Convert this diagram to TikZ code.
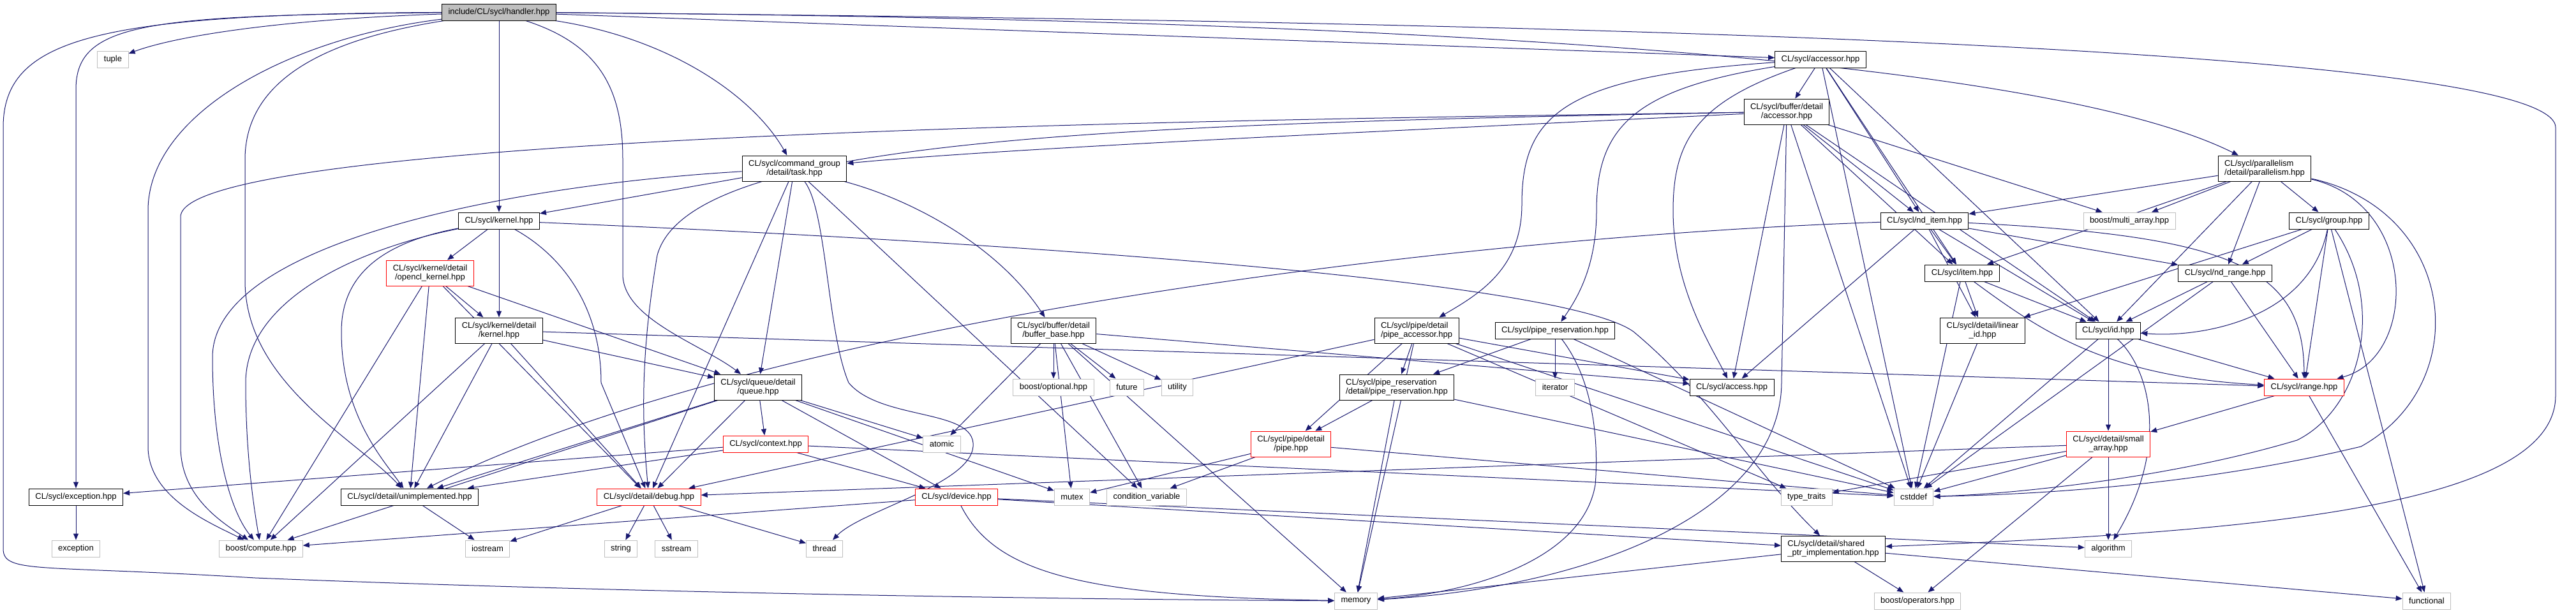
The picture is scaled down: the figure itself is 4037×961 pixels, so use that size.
\documentclass[tikz,border=0pt]{standalone}
\usepackage{fontspec}
\setmainfont{Liberation Sans}
\usetikzlibrary{arrows.meta}
\definecolor{edgeblue}{HTML}{191970}
\definecolor{greyline}{HTML}{BFBFBF}
\pgfdeclarelayer{background}
\pgfsetlayers{background,main}

\begin{document}
\begin{tikzpicture}[>={Triangle[length=10pt,width=8pt]},x=1pt,y=-1pt,
  incfile/.style={draw=black,fill=white,line width=1pt,inner xsep=10pt,inner ysep=2pt,
    minimum height=26pt,align=center,font=\fontsize{13}{14}\selectfont},
  sysfile/.style={incfile,draw=greyline},
  truncfile/.style={incfile,draw=red},
  mainfile/.style={incfile,fill=greyline},
  twoline/.style={minimum height=40pt},
  dep/.style={->,draw=edgeblue,line width=1pt}]
  \useasboundingbox (0,0) rectangle (4037,961);

  % Headers of the project
  \node[mainfile] (handler) at (782,19) {include/CL/sycl/handler.hpp};
  \node[incfile] (accessor) at (2853,93) {CL/sycl/accessor.hpp};
  \node[incfile,twoline] (bufacc) at (2800,175) {CL/sycl/buffer/detail\\/accessor.hpp};
  \node[incfile,twoline] (task) at (1245,264) {CL/sycl/command\_group\\/detail/task.hpp};
  \node[incfile,twoline,align=left] (parallelism) at (3549,264) {CL/sycl/parallelism\\/detail/parallelism.hpp};
  \node[incfile] (kernel) at (782,346) {CL/sycl/kernel.hpp};
  \node[incfile] (nditem) at (3016,346) {CL/sycl/nd\_item.hpp};
  \node[incfile] (group) at (3650,346) {CL/sycl/group.hpp};
  \node[truncfile,twoline] (openclkernel) at (674,428) {CL/sycl/kernel/detail\\/opencl\_kernel.hpp};
  \node[incfile] (item) at (3075,428) {CL/sycl/item.hpp};
  \node[incfile] (ndrange) at (3487,428) {CL/sycl/nd\_range.hpp};
  \node[incfile,twoline] (kerneldetail) at (782,518) {CL/sycl/kernel/detail\\/kernel.hpp};
  \node[incfile,twoline] (bufferbase) at (1651,518) {CL/sycl/buffer/detail\\/buffer\_base.hpp};
  \node[incfile,twoline,align=left] (pipeacc) at (2220,518) {CL/sycl/pipe/detail\\/pipe\_accessor.hpp};
  \node[incfile] (pipereserv) at (2437,518) {CL/sycl/pipe\_reservation.hpp};
  \node[incfile,twoline] (linearid) at (3107,518) {CL/sycl/detail/linear\\\_id.hpp};
  \node[incfile] (id) at (3304,518) {CL/sycl/id.hpp};
  \node[incfile,twoline] (queue) at (1188,607) {CL/sycl/queue/detail\\/queue.hpp};
  \node[incfile,twoline,align=left] (pipereservdetail) at (2189,607) {CL/sycl/pipe\_reservation\\/detail/pipe\_reservation.hpp};
  \node[incfile] (access) at (2714,607) {CL/sycl/access.hpp};
  \node[truncfile] (range) at (3611,607) {CL/sycl/range.hpp};
  \node[truncfile] (context) at (1200,696) {CL/sycl/context.hpp};
  \node[truncfile,twoline] (pipe) at (2023,696) {CL/sycl/pipe/detail\\/pipe.hpp};
  \node[truncfile,twoline] (smallarray) at (3304,696) {CL/sycl/detail/small\\\_array.hpp};
  \node[incfile] (exceptionhpp) at (119,779) {CL/sycl/exception.hpp};
  \node[incfile] (unimplemented) at (642,779) {CL/sycl/detail/unimplemented.hpp};
  \node[truncfile] (debug) at (1017,779) {CL/sycl/detail/debug.hpp};
  \node[truncfile] (device) at (1499,779) {CL/sycl/device.hpp};
  \node[incfile,twoline,align=left] (sharedptr) at (2873,860) {CL/sycl/detail/shared\\\_ptr\_implementation.hpp};

  % System and library headers
  \node[sysfile] (tuple) at (177,93) {tuple};
  \node[sysfile] (multiarray) at (3337,346) {boost/multi\_array.hpp};
  \node[sysfile] (optional) at (1651,607) {boost/optional.hpp};
  \node[sysfile] (future) at (1766,607) {future};
  \node[sysfile] (utility) at (1845,607) {utility};
  \node[sysfile] (iterator) at (2437,607) {iterator};
  \node[sysfile] (atomic) at (1476,696) {atomic};
  \node[sysfile] (mutex) at (1680,779) {mutex};
  \node[sysfile] (condvar) at (1797,779) {condition\_variable};
  \node[sysfile] (typetraits) at (2831,779) {type\_traits};
  \node[sysfile] (cstddef) at (2999,779) {cstddef};
  \node[sysfile] (exception) at (119,860) {exception};
  \node[sysfile] (compute) at (409,860) {boost/compute.hpp};
  \node[sysfile] (iostream) at (764,860) {iostream};
  \node[sysfile] (string) at (973,860) {string};
  \node[sysfile] (sstream) at (1060,860) {sstream};
  \node[sysfile] (thread) at (1292,860) {thread};
  \node[sysfile] (algorithm) at (3304,860) {algorithm};
  \node[sysfile] (memory) at (2125,942) {memory};
  \node[sysfile] (operators) at (3005,942) {boost/operators.hpp};
  \node[sysfile] (functional) at (3803,942) {functional};

  \begin{pgfonlayer}{background}
  \fill[white] (0,0) rectangle (4037,961);
  % Direct includes
  \foreach \a/\b in {handler/kernel, handler/accessor,
      accessor/bufacc, accessor/nditem, accessor/item, accessor/id, accessor/cstddef,
      bufacc/nditem, bufacc/item, bufacc/id, bufacc/multiarray, bufacc/access, bufacc/cstddef,
      task/kernel, task/queue, task/debug, task/condvar,
      parallelism/nditem, parallelism/multiarray, parallelism/item, parallelism/id,
      parallelism/ndrange, parallelism/group,
      kernel/openclkernel, kernel/kerneldetail,
      nditem/item, nditem/id, nditem/ndrange, nditem/linearid, nditem/access,
      group/linearid, group/ndrange, group/range, group/functional,
      openclkernel/kerneldetail, openclkernel/compute, openclkernel/unimplemented,
      openclkernel/debug, openclkernel/queue,
      item/id, item/linearid, item/cstddef,
      ndrange/id, ndrange/range, ndrange/cstddef,
      kerneldetail/compute, kerneldetail/unimplemented, kerneldetail/debug,
      kerneldetail/queue, kerneldetail/range,
      bufferbase/optional, bufferbase/future, bufferbase/utility, bufferbase/atomic,
      bufferbase/mutex, bufferbase/condvar, bufferbase/access, bufferbase/memory,
      pipeacc/pipe, pipeacc/pipereservdetail, pipeacc/access, pipeacc/debug,
      pipeacc/memory, pipeacc/cstddef, pipeacc/typetraits,
      pipereserv/pipereservdetail, pipereserv/iterator, pipereserv/cstddef,
      linearid/cstddef, id/smallarray, id/range, id/cstddef,
      queue/context, queue/atomic, queue/device, queue/mutex, queue/debug,
      queue/unimplemented, queue/compute,
      pipereservdetail/pipe, pipereservdetail/memory, pipereservdetail/cstddef,
      range/smallarray, range/functional,
      context/device, context/exceptionhpp, context/unimplemented, context/cstddef,
      pipe/mutex, pipe/condvar, pipe/cstddef,
      smallarray/algorithm, smallarray/operators, smallarray/cstddef,
      smallarray/typetraits, smallarray/debug,
      exceptionhpp/exception, unimplemented/iostream,
      debug/string, debug/sstream, debug/thread, debug/iostream,
      device/compute, device/algorithm, device/sharedptr,
      sharedptr/memory, sharedptr/operators, sharedptr/functional}
    \draw[dep] (\a) -- (\b);

  % Routed includes of handler.hpp
  \draw[dep] (handler) .. controls (450,30) and (280,55) .. (tuple);
  \draw[dep] (handler) .. controls (150,22) and (5,60) .. (5,200) -- (5,860)
    .. controls (5,900) and (60,885) .. (400,906) .. controls (1000,930) and (1700,940) .. (memory);
  \draw[dep] (handler) .. controls (230,24) and (119,35) .. (119,140) -- (exceptionhpp);
  \draw[dep] (handler) .. controls (450,60) and (232,180) .. (232,330) -- (232,700)
    .. controls (232,780) and (330,820) .. (compute);
  \draw[dep] (handler) .. controls (520,60) and (384,120) .. (384,250) -- (384,440)
    .. controls (384,600) and (560,690) .. (unimplemented);
  \draw[dep] (handler) .. controls (1050,60) and (1180,150) .. (task);
  \draw[dep] (handler) .. controls (940,70) and (976,140) .. (976,250) -- (976,430)
    .. controls (976,500) and (1100,540) .. (queue);
  \draw[dep] (handler) .. controls (2200,30) and (3200,90) .. (parallelism);
  \draw[dep] (handler) .. controls (2600,35) and (4005,80) .. (4005,200) -- (4005,620)
    .. controls (4005,800) and (3500,835) .. (sharedptr);

  % Routed includes of the other headers
  \draw[dep] (accessor) .. controls (2450,120) and (2385,180) .. (2385,320)
    .. controls (2385,420) and (2320,460) .. (pipeacc);
  \draw[dep] (accessor) .. controls (2560,140) and (2502,200) .. (2502,330)
    .. controls (2502,420) and (2470,470) .. (pipereserv);
  \draw[dep] (accessor) .. controls (2660,160) and (2622,220) .. (2622,330)
    .. controls (2622,450) and (2680,540) .. (access);
  \draw[dep] (bufacc) .. controls (2300,200) and (1600,230) .. (task);
  \draw[dep] (bufacc) .. controls (2200,185) and (283,200) .. (283,340) -- (283,700)
    .. controls (283,780) and (350,820) .. (compute);
  \draw[dep] (bufacc) .. controls (1700,195) and (1080,220) .. (1030,400)
    .. controls (1005,550) and (1005,650) .. (debug);
  \draw[dep] (bufacc) -- (2792,600) .. controls (2790,800) and (2500,920) .. (memory);
  \draw[dep] (task) .. controls (800,290) and (333,380) .. (333,560)
    .. controls (333,700) and (360,800) .. (compute);
  \draw[dep] (task) .. controls (1420,310) and (1560,380) .. (bufferbase);
  \draw[dep] (task) .. controls (1296,330) and (1296,520) .. (1330,600)
    .. controls (1380,660) and (1530,640) .. (1525,700) .. controls (1520,760) and (1350,800) .. (thread);
  \draw[dep] (kernel) .. controls (560,390) and (385,470) .. (385,600)
    .. controls (385,700) and (395,780) .. (compute);
  \draw[dep] (kernel) .. controls (600,380) and (535,430) .. (535,520)
    .. controls (535,650) and (600,720) .. (unimplemented);
  \draw[dep] (kernel) .. controls (880,400) and (942,480) .. (942,600) -- (debug);
  \draw[dep] (kernel) .. controls (1600,380) and (2450,440) .. (2560,520)
    .. controls (2680,620) and (2750,740) .. (sharedptr);
  \draw[dep] (nditem) .. controls (2300,370) and (1200,500) .. (unimplemented);
  \draw[dep] (nditem) .. controls (3500,370) and (3610,420) .. (range);
  \draw[dep] (item) .. controls (3200,520) and (3300,590) .. (range);
  \draw[dep] (group) .. controls (3620,500) and (3450,530) .. (id);
  \draw[dep] (group) .. controls (3740,480) and (3700,640) .. (3600,690)
    .. controls (3400,750) and (3150,775) .. (cstddef);
  \draw[dep] (parallelism) .. controls (3790,320) and (3790,560) .. (range);
  \draw[dep] (parallelism) .. controls (3850,330) and (3880,600) .. (3700,700)
    .. controls (3450,760) and (3200,775) .. (cstddef);
  \draw[dep] (id) .. controls (3370,580) and (3400,700) .. (algorithm);
  \draw[dep] (device) .. controls (1560,900) and (1700,935) .. (memory);
  \draw[dep] (pipereserv) .. controls (2500,600) and (2505,700) .. (2500,760)
    .. controls (2480,880) and (2300,930) .. (memory);
  \end{pgfonlayer}
\end{tikzpicture}
\end{document}
